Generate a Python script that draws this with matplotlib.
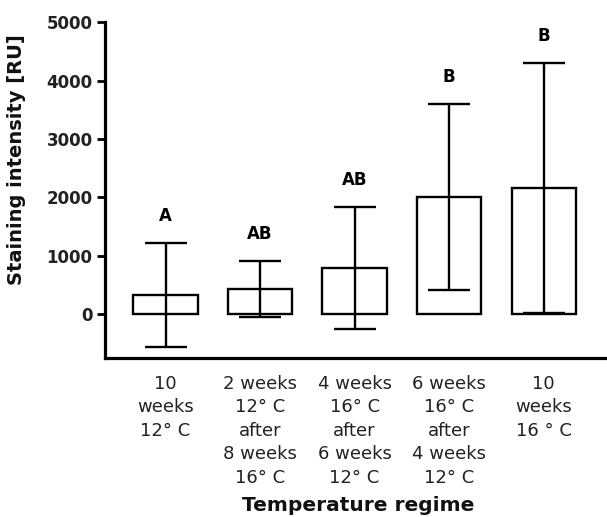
import matplotlib
matplotlib.use("Agg")
import matplotlib.pyplot as plt
import numpy as np

plt.rcParams['font.family'] = ['DejaVu Sans']

categories = ["10\nweeks\n12° C",
              "2 weeks\n12° C\nafter\n8 weeks\n16° C",
              "4 weeks\n16° C\nafter\n6 weeks\n12° C",
              "6 weeks\n16° C\nafter\n4 weeks\n12° C",
              "10\nweeks\n16 ° C"]
means = [325, 425, 790, 2005, 2165]
errors = [890, 480, 1045, 1590, 2140]
letters = ["A", "AB", "AB", "B", "B"]
yticks = [0, 1000, 2000, 3000, 4000, 5000]

fig = plt.figure(figsize=(6.07, 5.17), dpi=100)
ax = fig.add_axes([0.173, 0.3075, 0.824, 0.6495])

x = np.arange(len(categories))
ax.bar(x, means, width=0.68, color='white', edgecolor='black', linewidth=1.7, zorder=2)
ax.errorbar(x, means, yerr=errors, fmt='none', ecolor='black', elinewidth=1.7,
            capsize=15, capthick=1.7, zorder=3)
for xi, m, e, lab in zip(x, means, errors, letters):
    ax.annotate(lab, (xi, m + e), xytext=(0, 13), textcoords='offset points',
                ha='center', va='bottom', fontsize=12, fontweight='bold')

ax.set_xlim(-0.64, 4.65)
ax.set_ylim(-750, 5000)
ax.set_yticks(yticks)
ax.set_yticklabels([str(t) for t in yticks], fontsize=12, fontweight='bold', color='#222222')
ax.set_xticks(x)
ax.set_xticklabels(categories, fontsize=13, linespacing=1.39, va='top', color='#222222')
ax.tick_params(axis='x', length=0, pad=12)
ax.tick_params(axis='y', length=6, width=2, direction='out', pad=3)

for s in ['top', 'right']:
    ax.spines[s].set_visible(False)
for s in ['left', 'bottom']:
    ax.spines[s].set_linewidth(2.3)
ax.spines['left'].set_bounds(-750, 5000)

ax.set_ylabel("Staining intensity [RU]", fontsize=14, fontweight='bold', color='#111111')
ax.yaxis.set_label_coords(-0.157, 0.59)
fig.text(0.59, 0.023, "Temperature regime", ha='center', va='center',
         fontsize=14.5, fontweight='bold', color='#111111')

fig.savefig("out.png", dpi=100)
